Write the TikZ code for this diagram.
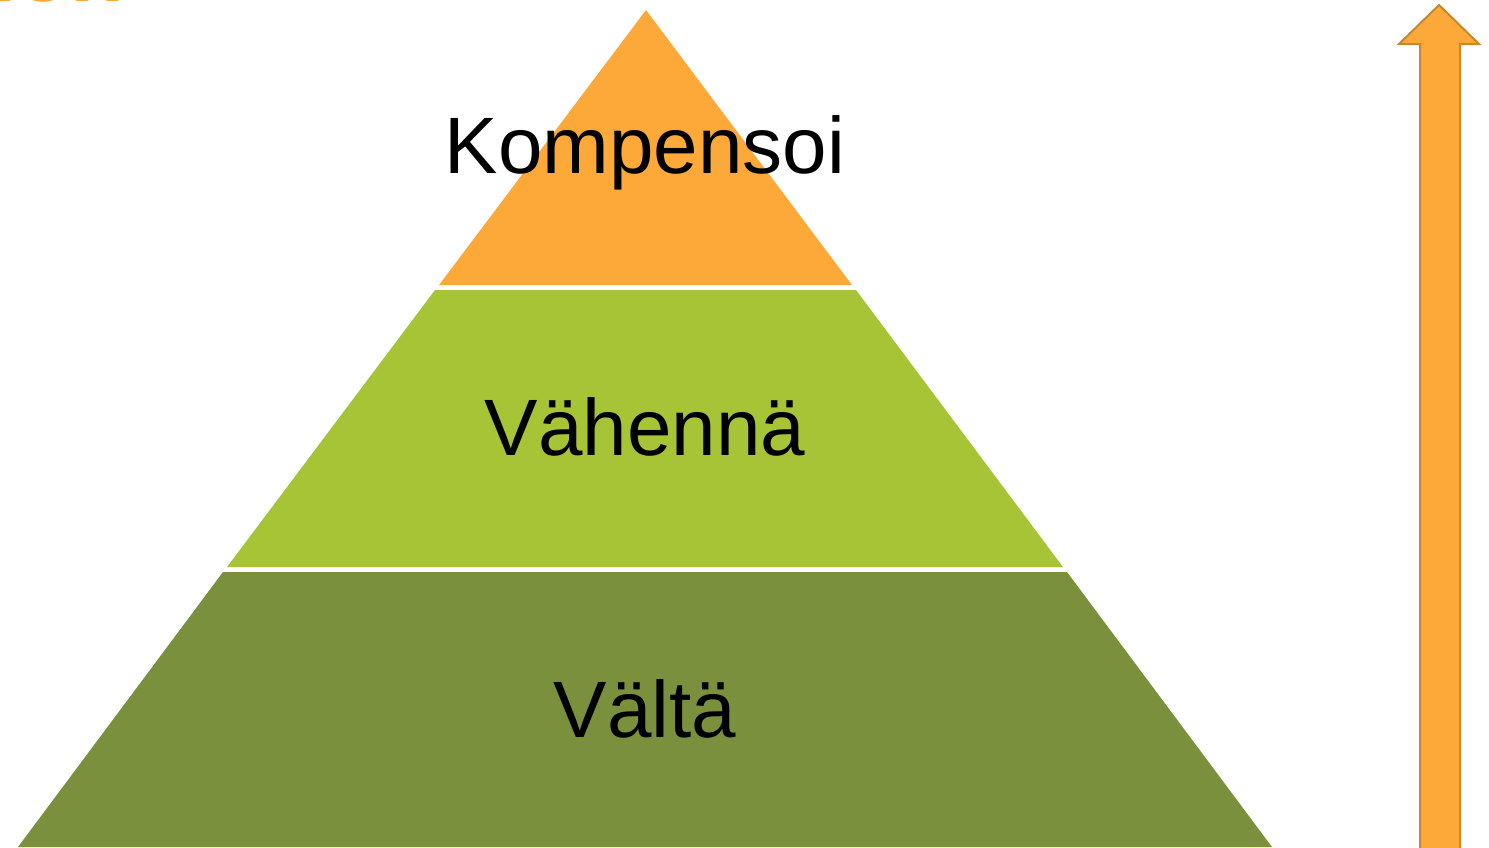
\documentclass[tikz,border=0pt]{standalone}
\usepackage{fontspec}
\setmainfont{Liberation Sans}
\definecolor{porange}{HTML}{FDA93A}
\definecolor{plight}{HTML}{A7C437}
\definecolor{pdark}{HTML}{7B903C}
\definecolor{aborder}{HTML}{C7872E}
\begin{document}
\begin{tikzpicture}[x=0.5pt,y=-0.5pt,
  lbl/.style={anchor=base,inner sep=0pt,font=\fontsize{40}{48}\selectfont,text=black},
  arrowbody/.style={fill=porange,draw=aborder,line width=1pt,line join=miter}]
\useasboundingbox (0,0) rectangle (1489,847);
\begin{scope}
\clip (0,0) rectangle (1489,847);
% partially visible title text (cut off by the top edge, as in the reference)
\node[anchor=base west,inner sep=0pt,text=porange,font=\fontsize{44}{50}\selectfont\bfseries] (title) at (-8,1.5) {ion};
% pyramid
\fill[porange] (646,10) -- (852,285) -- (439,285) -- cycle;
\fill[plight] (435,290) -- (856,290) -- (1063,567) -- (227,567) -- cycle;
\fill[pdark] (223,572) -- (1067,572) -- (1272,847) -- (18,847) -- cycle;
% arrow
\draw[arrowbody] (1420,850) -- (1420,44) -- (1399,44) -- (1439,5) -- (1479,44) -- (1460,44) -- (1460,850);
\end{scope}
\node[lbl] (k) at (645,173) {Kompensoi};
\node[lbl] (v) at (645,455) {Vähennä};
\node[lbl] (a) at (645,737) {Vältä};
\end{tikzpicture}
\end{document}
